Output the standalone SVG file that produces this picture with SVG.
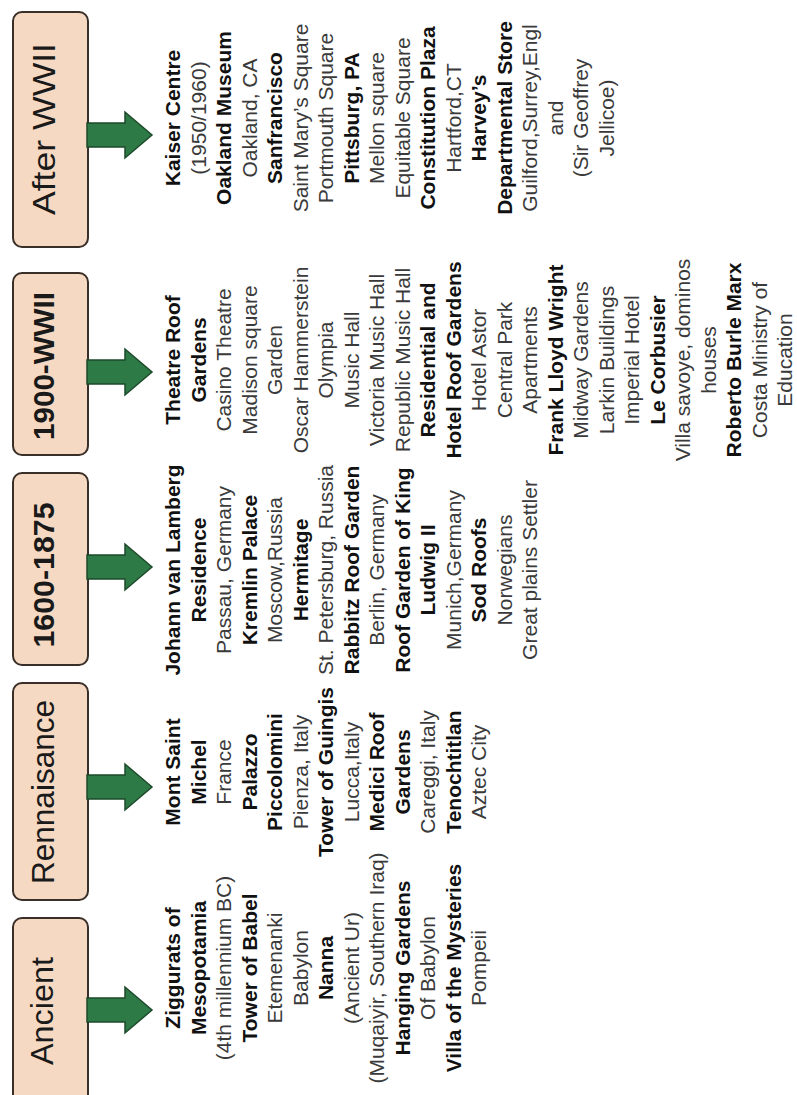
<svg xmlns="http://www.w3.org/2000/svg" xmlns:xlink="http://www.w3.org/1999/xlink" width="797" height="1095" viewBox="0 0 797 1095">
<style>
.box{fill:#f6d9c2;stroke:#3a2e28;stroke-width:2}
.lbl{font-family:"Liberation Sans",Arial,sans-serif;font-size:32px;fill:#1a1a1a;text-anchor:middle}
.lblb{font-family:"Liberation Sans",Arial,sans-serif;font-size:30px;font-weight:bold;fill:#1a1a1a;text-anchor:middle}
.arr{fill:#2e7a46;stroke:#1d4a2b;stroke-width:1.5;stroke-linejoin:miter}
.t{font-family:"Liberation Sans",Arial,sans-serif;font-size:21px;fill:#3a3a3a;text-anchor:middle}
.b{font-weight:bold;fill:#111}
</style>
<defs>
<path id="arrow" class="arr" d="M87,-12 H125 V-23 L152,0 L125,23 V12 H87 Z"/>
</defs>
<rect width="797" height="1095" fill="#ffffff"/>

<g id="period-after-wwii">
<rect class="box" x="13" y="12" width="75" height="235" rx="9"/>
<text class="lbl" transform="translate(55,129) rotate(-90)" textLength="172" lengthAdjust="spacingAndGlyphs">After WWII</text>
</g>
<g id="period-1900-wwii">
<rect class="box" x="13" y="273" width="75" height="182" rx="9"/>
<text class="lblb" transform="translate(54,366) rotate(-90)" textLength="148" lengthAdjust="spacingAndGlyphs">1900-WWII</text>
</g>
<g id="period-1600-1875">
<rect class="box" x="13" y="473" width="75" height="192" rx="9"/>
<text class="lblb" transform="translate(54,575) rotate(-90)" textLength="145" lengthAdjust="spacingAndGlyphs">1600-1875</text>
</g>
<g id="period-rennaisance">
<rect class="box" x="13" y="683" width="75" height="217" rx="9"/>
<text class="lbl" transform="translate(54,792) rotate(-90)" textLength="184" lengthAdjust="spacingAndGlyphs">Rennaisance</text>
</g>
<g id="period-ancient">
<rect class="box" x="13" y="918" width="75" height="195" rx="9"/>
<text class="lbl" transform="translate(53,1011) rotate(-90)" textLength="108" lengthAdjust="spacingAndGlyphs">Ancient</text>
</g>

<g id="connectors">
<use xlink:href="#arrow" href="#arrow" transform="translate(0,135)"/>
<use xlink:href="#arrow" href="#arrow" transform="translate(0,372)"/>
<use xlink:href="#arrow" href="#arrow" transform="translate(0,567)"/>
<use xlink:href="#arrow" href="#arrow" transform="translate(0,787)"/>
<use xlink:href="#arrow" href="#arrow" transform="translate(0,1010)"/>
</g>

<g id="list-after-wwii" transform="translate(0,118) rotate(-90)">
<text class="t b" x="0" y="180">Kaiser Centre</text>
<text class="t" x="0" y="205.5">(1950/1960)</text>
<text class="t b" x="0" y="231">Oakland Museum</text>
<text class="t" x="0" y="256.5">Oakland, CA</text>
<text class="t b" x="0" y="282">Sanfrancisco</text>
<text class="t" x="0" y="307.5">Saint Mary’s Square</text>
<text class="t" x="0" y="333">Portmouth Square</text>
<text class="t b" x="0" y="358.5">Pittsburg, PA</text>
<text class="t" x="0" y="384">Mellon square</text>
<text class="t" x="0" y="409.5">Equitable Square</text>
<text class="t b" x="0" y="435">Constitution Plaza</text>
<text class="t" x="0" y="460.5">Hartford,CT</text>
<text class="t b" x="0" y="486">Harvey’s</text>
<text class="t b" x="0" y="511.5">Departmental Store</text>
<text class="t" x="0" y="537">Guilford,Surrey,Engl</text>
<text class="t" x="0" y="562.5">and</text>
<text class="t" x="0" y="588">(Sir Geoffrey</text>
<text class="t" x="0" y="613.5">Jellicoe)</text>
</g>

<g id="list-1900-wwii" transform="translate(0,360) rotate(-90)">
<text class="t b" x="0" y="180">Theatre Roof</text>
<text class="t b" x="0" y="205.5">Gardens</text>
<text class="t" x="0" y="231">Casino Theatre</text>
<text class="t" x="0" y="256.5">Madison square</text>
<text class="t" x="0" y="282">Garden</text>
<text class="t" x="0" y="307.5">Oscar Hammerstein</text>
<text class="t" x="0" y="333">Olympia</text>
<text class="t" x="0" y="358.5">Music Hall</text>
<text class="t" x="0" y="384">Victoria Music Hall</text>
<text class="t" x="0" y="409.5">Republic Music Hall</text>
<text class="t b" x="0" y="435">Residential and</text>
<text class="t b" x="0" y="460.5">Hotel Roof Gardens</text>
<text class="t" x="0" y="486">Hotel Astor</text>
<text class="t" x="0" y="511.5">Central Park</text>
<text class="t" x="0" y="537">Apartments</text>
<text class="t b" x="0" y="562.5">Frank Lloyd Wright</text>
<text class="t" x="0" y="588">Midway Gardens</text>
<text class="t" x="0" y="613.5">Larkin Buildings</text>
<text class="t" x="0" y="639">Imperial Hotel</text>
<text class="t b" x="0" y="664.5">Le Corbusier</text>
<text class="t" x="0" y="690">Villa savoye, dominos</text>
<text class="t" x="0" y="715.5">houses</text>
<text class="t b" x="0" y="741">Roberto Burle Marx</text>
<text class="t" x="0" y="766.5">Costa Ministry of</text>
<text class="t" x="0" y="792">Education</text>
</g>

<g id="list-1600-1875" transform="translate(0,570) rotate(-90)">
<text class="t b" x="0" y="180">Johann van Lamberg</text>
<text class="t b" x="0" y="205.5">Residence</text>
<text class="t" x="0" y="231">Passau, Germany</text>
<text class="t b" x="0" y="256.5">Kremlin Palace</text>
<text class="t" x="0" y="282">Moscow,Russia</text>
<text class="t b" x="0" y="307.5">Hermitage</text>
<text class="t" x="0" y="333">St. Petersburg, Russia</text>
<text class="t b" x="0" y="358.5">Rabbitz Roof Garden</text>
<text class="t" x="0" y="384">Berlin, Germany</text>
<text class="t b" x="0" y="409.5">Roof Garden of King</text>
<text class="t b" x="0" y="435">Ludwig II</text>
<text class="t" x="0" y="460.5">Munich,Germany</text>
<text class="t b" x="0" y="486">Sod Roofs</text>
<text class="t" x="0" y="511.5">Norwegians</text>
<text class="t" x="0" y="537">Great plains Settler</text>
</g>

<g id="list-rennaisance" transform="translate(0,772) rotate(-90)">
<text class="t b" x="0" y="180">Mont Saint</text>
<text class="t b" x="0" y="205.5">Michel</text>
<text class="t" x="0" y="231">France</text>
<text class="t b" x="0" y="256.5">Palazzo</text>
<text class="t b" x="0" y="282">Piccolomini</text>
<text class="t" x="0" y="307.5">Pienza, Italy</text>
<text class="t b" x="0" y="333">Tower of Guingis</text>
<text class="t" x="0" y="358.5">Lucca,Italy</text>
<text class="t b" x="0" y="384">Medici Roof</text>
<text class="t b" x="0" y="409.5">Gardens</text>
<text class="t" x="0" y="435">Careggi, Italy</text>
<text class="t b" x="0" y="460.5">Tenochtitlan</text>
<text class="t" x="0" y="486">Aztec City</text>
</g>

<g id="list-ancient" transform="translate(0,968) rotate(-90)">
<text class="t b" x="0" y="180">Ziggurats of</text>
<text class="t b" x="0" y="205.5">Mesopotamia</text>
<text class="t" x="0" y="231">(4th millennium BC)</text>
<text class="t b" x="0" y="256.5">Tower of Babel</text>
<text class="t" x="0" y="282">Etemenanki</text>
<text class="t" x="0" y="307.5">Babylon</text>
<text class="t b" x="0" y="333">Nanna</text>
<text class="t" x="0" y="358.5">(Ancient Ur)</text>
<text class="t" x="0" y="384">(Muqaiyir, Southern Iraq)</text>
<text class="t b" x="0" y="409.5">Hanging Gardens</text>
<text class="t" x="0" y="435">Of Babylon</text>
<text class="t b" x="0" y="460.5">Villa of the Mysteries</text>
<text class="t" x="0" y="486">Pompeii</text>
</g>
</svg>
